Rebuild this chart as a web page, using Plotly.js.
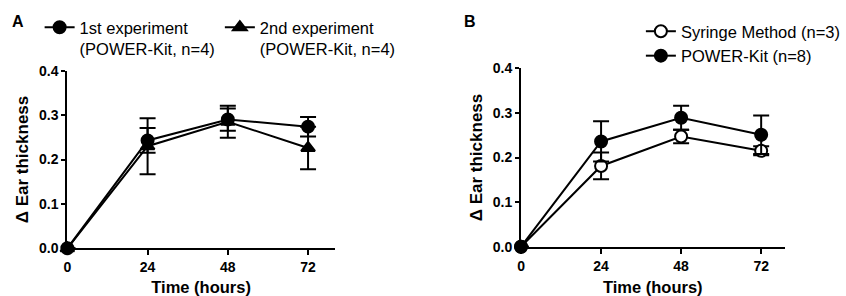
<!DOCTYPE html>
<html>
<head>
<meta charset="utf-8">
<script src="https://cdn.plot.ly/plotly-3.0.1.min.js"></script>
<style>html,body{margin:0;padding:0;background:#fff;}#chart{width:846px;height:296px;}</style>
</head>
<body>
<div id="chart"></div>
<script>
// ---- data ----
var timeHours = [0, 24, 48, 72];
var xTickVals = [0, 24, 48, 72];
var yTickVals = [0, 0.1, 0.2, 0.3, 0.4];

// Panel A
var exp1Mean = [0, 0.243, 0.290, 0.274];
var exp1Err  = [0, 0.028, 0.025, 0.022];
var exp2Mean = [0, 0.230, 0.285, 0.226];
var exp2Err  = [0, 0.063, 0.036, 0.048];

// Panel B
var syringeMean = [0, 0.181, 0.247, 0.215];
var syringeErr  = [0, 0.030, 0.015, 0.010];
var powerMean   = [0, 0.236, 0.289, 0.251];
var powerErr    = [0, 0.045, 0.027, 0.043];

var labelA1 = '1st experiment<br>(POWER-Kit, n=4)';
var labelA2 = '2nd experiment<br>(POWER-Kit, n=4)';
var labelB1 = 'Syringe Method (n=3)';
var labelB2 = 'POWER-Kit (n=8)';

// ---- styling ----
var W = 846, H = 296;
var FONT = 'Liberation Sans, Arial, sans-serif';
function px(x){ return x / W; }
function py(y){ return 1 - y / H; }

function errBar(arr){
  return {type: 'data', array: arr, visible: true, color: '#000', thickness: 2, width: 8};
}
function trace(x, y, err, name, xa, ya, symbol, fill, legend){
  return {
    x: x, y: y, name: name, type: 'scatter', mode: 'lines+markers',
    xaxis: xa, yaxis: ya, legend: legend, cliponaxis: false,
    line: {color: '#000', width: 2},
    marker: {symbol: symbol, size: 12, color: fill, line: {color: '#000', width: 2}},
    error_y: errBar(err)
  };
}

var data = [
  trace(timeHours, exp1Mean, exp1Err, labelA1, 'x', 'y', 'circle', '#000', 'legend'),
  trace(timeHours, exp2Mean, exp2Err, labelA2, 'x', 'y', 'triangle-up', '#000', 'legend'),
  trace(timeHours, syringeMean, syringeErr, labelB1, 'x2', 'y2', 'circle', '#fff', 'legend2'),
  trace(timeHours, powerMean, powerErr, labelB2, 'x2', 'y2', 'circle', '#000', 'legend2')
];

function xAxis(domain, anchor, maxX){
  return {
    domain: domain, anchor: anchor, range: [0, maxX], tickvals: xTickVals,
    showline: true, linewidth: 2, linecolor: '#000', mirror: false,
    ticks: 'outside', ticklen: 5, tickwidth: 2, tickcolor: '#000',
    showgrid: false, zeroline: false,
    tickfont: {family: FONT, size: 14, color: '#000', weight: 'bold'},
    title: {text: 'Time (hours)', font: {family: FONT, size: 16.5, color: '#000', weight: 'bold'}, standoff: 10}
  };
}
function yAxis(domain, anchor){
  return {
    domain: domain, anchor: anchor, range: [0, 0.4], tickvals: yTickVals, tickformat: '.1f',
    showline: true, linewidth: 2, linecolor: '#000',
    ticks: 'outside', ticklen: 4, tickwidth: 2, tickcolor: '#000',
    showgrid: false, zeroline: false,
    tickfont: {family: FONT, size: 14, color: '#000', weight: 'bold'},
    title: {text: '\u0394 Ear thickness', font: {family: FONT, size: 17, color: '#000', weight: 'bold'}, standoff: 6}
  };
}

var layout = {
  width: W, height: H,
  margin: {l: 0, r: 0, t: 0, b: 0},
  paper_bgcolor: '#fff', plot_bgcolor: '#fff',
  font: {family: FONT, color: '#000'},
  showlegend: true,
  xaxis: xAxis([px(68), px(338)], 'y', 80),
  yaxis: yAxis([py(248.3), py(70.7)], 'x'),
  xaxis2: xAxis([px(526), px(792)], 'y2', 79),
  yaxis2: yAxis([py(246.7), py(68.3)], 'x2'),
  legend: {
    orientation: 'h', x: px(40), xanchor: 'left', y: py(10), yanchor: 'top',
    valign: 'top', bgcolor: 'rgba(0,0,0,0)',
    font: {family: FONT, size: 16.5, color: '#000'}
  },
  legend2: {
    orientation: 'v', x: px(647), xanchor: 'left', y: py(14), yanchor: 'top',
    bgcolor: 'rgba(0,0,0,0)', tracegroupgap: 0,
    font: {family: FONT, size: 16.5, color: '#000'}
  },
  annotations: [
    {text: 'A', x: px(18.5), y: py(21), xref: 'paper', yref: 'paper', xanchor: 'center', yanchor: 'middle',
     showarrow: false, font: {family: FONT, size: 16, color: '#000', weight: 'bold'}},
    {text: 'B', x: px(474), y: py(21), xref: 'paper', yref: 'paper', xanchor: 'center', yanchor: 'middle',
     showarrow: false, font: {family: FONT, size: 16, color: '#000', weight: 'bold'}}
  ]
};

Plotly.newPlot('chart', data, layout, {staticPlot: true, displayModeBar: false});
</script>
</body>
</html>
